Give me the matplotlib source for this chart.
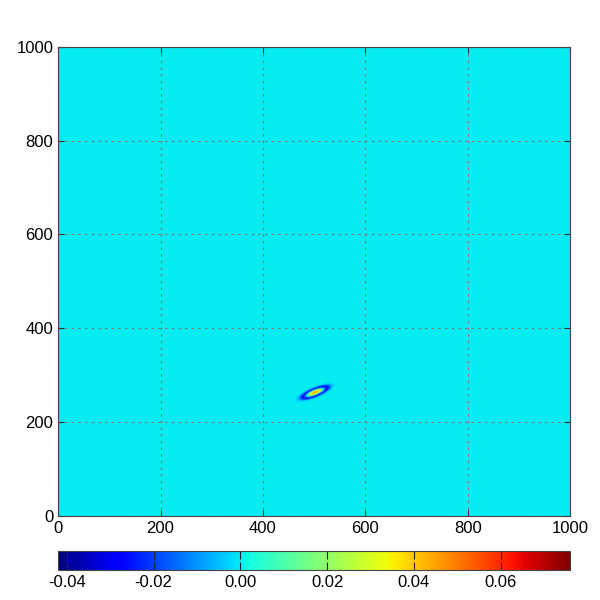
import matplotlib
matplotlib.use("Agg")
from matplotlib import pyplot as plt
import numpy as np

plt.rcParams['font.family'] = ['Liberation Sans', 'DejaVu Sans']

# domain and blob parameters
x_range = [0, 1000]
y_range = [0, 1000]
blob_center = [502, 263]
blob_angle = 24          # degrees, in data units
blob_semi = [13.0, 3.8]  # scale along / across the major axis
peak = 0.046             # positive core
ring_depth = 0.032       # negative ring
ring_radius = 1.9
ring_width = 0.5
vmin, vmax = -0.042, 0.076
axis_ticks = [0, 200, 400, 600, 800, 1000]
cbar_ticks = [-0.04, -0.02, 0.00, 0.02, 0.04, 0.06]

n = 2000
x = np.linspace(x_range[0], x_range[1], n)
y = np.linspace(y_range[0], y_range[1], n)
X, Y = np.meshgrid(x, y)
th = np.deg2rad(blob_angle)
dx = X - blob_center[0]
dy = Y - blob_center[1]
u = (dx*np.cos(th) + dy*np.sin(th)) / blob_semi[0]
v = (-dx*np.sin(th) + dy*np.cos(th)) / blob_semi[1]
r = np.sqrt(u**2 + v**2)
Z = peak*np.exp(-r**2/2) - ring_depth*np.exp(-(r - ring_radius)**2/(2*ring_width**2))

fig = plt.figure(figsize=(6, 6), dpi=100)
ax = fig.add_axes([0.097, 0.14, 0.853, 0.782])
im = ax.imshow(Z, extent=[x_range[0], x_range[1], y_range[0], y_range[1]],
               origin='lower', cmap='jet', vmin=vmin, vmax=vmax,
               interpolation='bilinear', aspect='auto')
ax.set_xlim(x_range)
ax.set_ylim(y_range)
ax.set_xticks(axis_ticks)
ax.set_yticks(axis_ticks)
ax.tick_params(direction='in', top=True, right=True, labelsize=12, length=4,
               color='#333333')
ax.grid(True, linestyle=(0, (2, 4)), color='#8a6e6e', linewidth=0.8)
for s in ax.spines.values():
    s.set_color('#444444')

cax = fig.add_axes([0.097, 0.05, 0.853, 0.032])
cb = fig.colorbar(im, cax=cax, orientation='horizontal', ticks=cbar_ticks)
cb.ax.set_xticklabels(['%.2f' % t for t in cbar_ticks])
cb.ax.tick_params(direction='in', top=True, labelsize=12, length=6,
                  color='#222222')
cb.outline.set_edgecolor('#444444')

fig.savefig('out.png', dpi=100)
